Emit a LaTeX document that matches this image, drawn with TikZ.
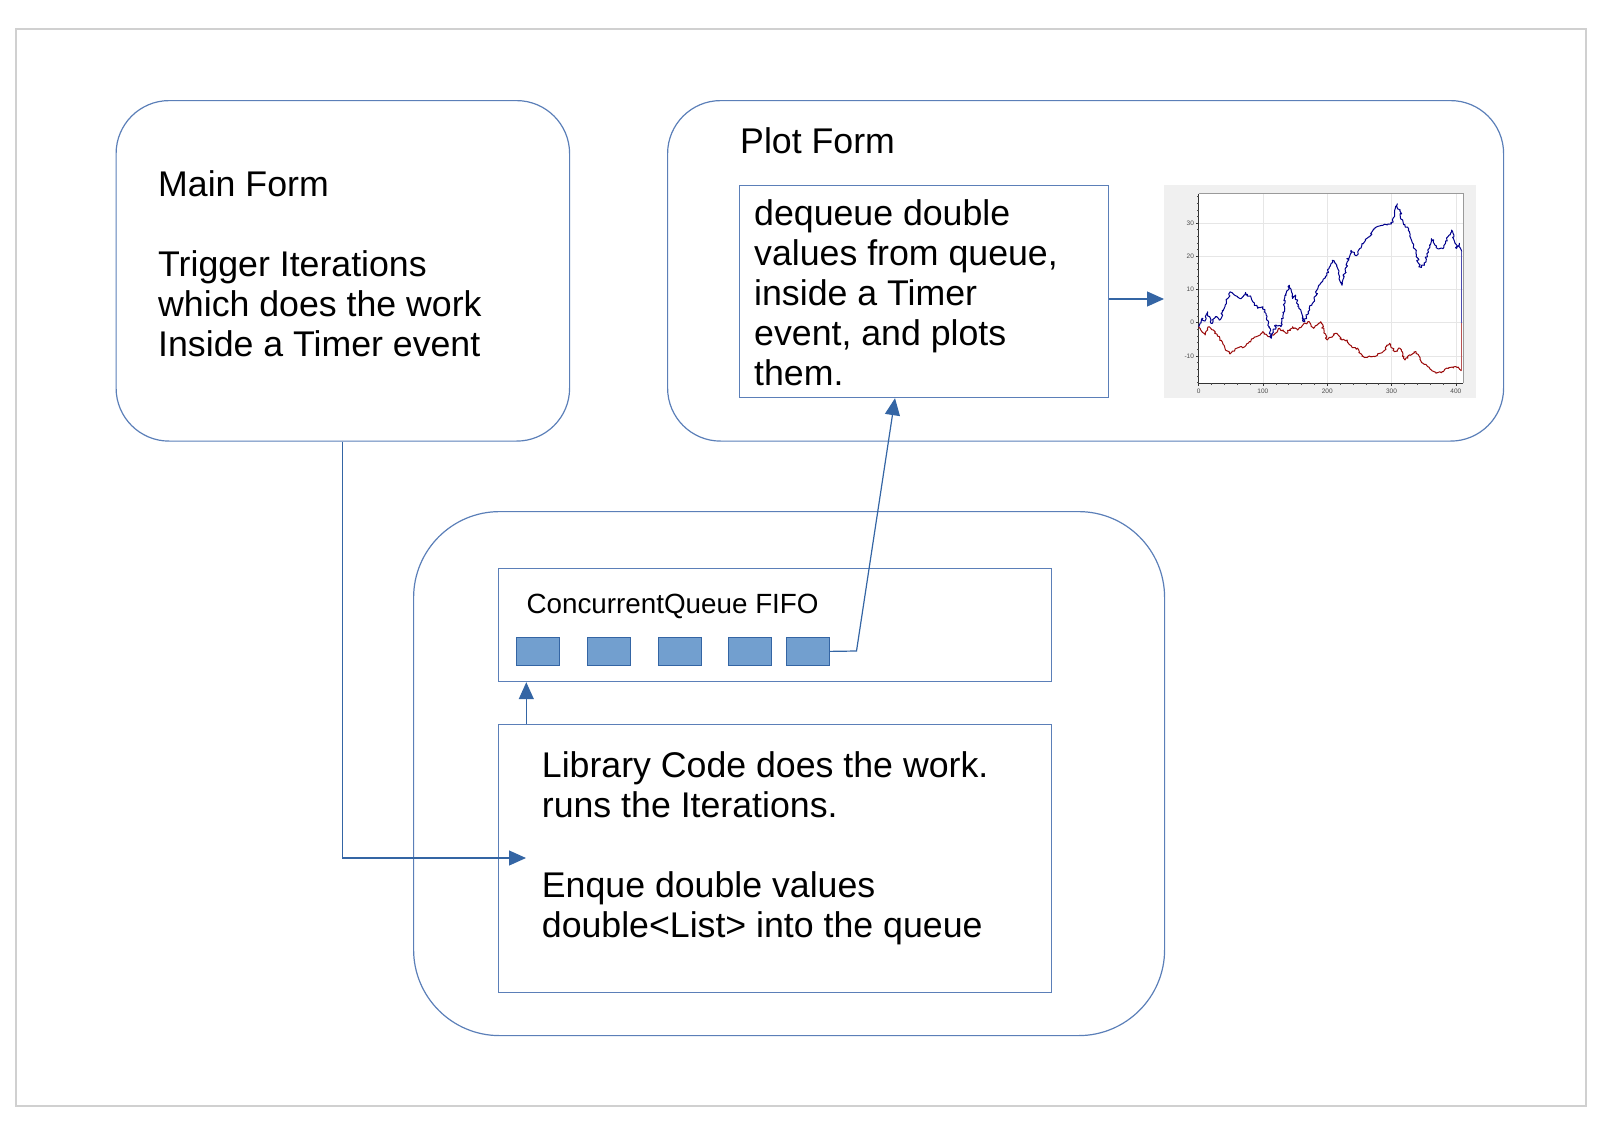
\documentclass[tikz,border=0pt]{standalone}
\usepackage{fontspec}
\setmainfont{Liberation Sans}
\usetikzlibrary{arrows.meta,decorations.pathmorphing}
\definecolor{boxline}{HTML}{5B7FB8}
\definecolor{connblue}{HTML}{3465A4}
\definecolor{sqfill}{HTML}{729FCF}
\definecolor{framegray}{HTML}{D0D0D0}
\definecolor{plotbg}{HTML}{F0F0F0}
\definecolor{gridc}{HTML}{E6E6E6}
\definecolor{bluec}{HTML}{00008C}
\definecolor{redc}{HTML}{9A0A0A}
\definecolor{axisgray}{HTML}{9A9A9A}
\begin{document}
\begin{tikzpicture}[x=1pt,y=-1pt,
  formbox/.style={draw=boxline, line width=1.2pt, rounded corners=53pt, anchor=north west, inner sep=0pt},
  plainbox/.style={draw=boxline, line width=1.2pt, anchor=north west, inner sep=0pt},
  qsquare/.style={draw=connblue, fill=sqfill, line width=0.8pt, anchor=north west, inner sep=0pt, minimum width=43pt, minimum height=28pt},
  bigtext/.style={font=\fontsize{35.7}{40}\selectfont, anchor=base west, inner sep=0pt},
  arrowline/.style={draw=connblue, line width=1.2pt, -{Triangle[length=17pt,width=15pt]}},
  ticklabel/.style={font=\fontsize{6.5}{7.5}\selectfont, text=black!70, inner sep=0pt}
]
\useasboundingbox (0,0) rectangle (1603,1124);
\draw[framegray, line width=1.2pt] (16,29) rectangle (1586,1106);

% boxes
\node[formbox, minimum width=453.5pt, minimum height=340.5pt] (mainform) at (115.5,100) {};
\node[formbox, minimum width=836pt, minimum height=340.5pt] (plotform) at (667,100) {};
\node[formbox, rounded corners=86pt, minimum width=751pt, minimum height=524pt] (container) at (413,511) {};
\node[plainbox, minimum width=553pt, minimum height=113pt] (queue) at (498,568) {};
\node[plainbox, minimum width=553pt, minimum height=268.4pt] (library) at (498,723.6) {};
\node[plainbox, minimum width=369.5pt, minimum height=212pt] (dequeue) at (738.5,185) {};
\node[fill=plotbg, anchor=north west, inner sep=0pt, minimum width=312pt, minimum height=213pt] (plotimg) at (1164,185) {};

% texts
\node[bigtext] (mftext) at (158,196) {\vtop{\hbox{Main Form}\hbox{}\hbox{Trigger Iterations}\hbox{which does the work}\hbox{Inside a Timer event}}};
\node[bigtext] (pftext) at (740,153) {Plot Form};
\node[bigtext] (deqtext) at (754,225) {\vtop{\hbox{dequeue double}\hbox{values from queue,}\hbox{inside a Timer}\hbox{event, and plots}\hbox{them.}}};
\node[bigtext] (libtext) at (541.7,777) {\vtop{\hbox{Library Code does the work.}\hbox{runs the Iterations.}\hbox{}\hbox{Enque double values}\hbox{double<List> into the queue}}};
\node[font=\fontsize{27.8}{32}\selectfont, anchor=base west, inner sep=0pt] (cqtext) at (526.4,613.3) {ConcurrentQueue FIFO};

% queue squares
\node[qsquare] (sq1) at (516,637) {};
\node[qsquare] (sq2) at (587,637) {};
\node[qsquare] (sq3) at (657.5,637) {};
\node[qsquare] (sq4) at (728,637) {};
\node[qsquare] (sq5) at (785.5,637) {};

% connectors
\coordinate (libin) at (526,858);
\coordinate (qx) at (526.3,700);
\coordinate (bend) at (856.5,651);
\coordinate (deqx) at (895,300);
\coordinate (ay) at (1130,299);
\draw[arrowline] (mainform.south) |- (libin);
\draw[arrowline] (library.north -| qx) -- (queue.south -| qx);
\draw[arrowline] (sq5.east) -- (bend) -- (dequeue.south -| deqx);
\draw[arrowline] (dequeue.east |- ay) -- (plotimg.west |- ay);

% chart
\begin{scope}[shift={(1198.6,322.7)}, x=0.643pt, y=3.32pt]
  \fill[white] (0,-18.3) rectangle (411.7,38.8);
  \foreach \t in {100,200,300,400} \draw[gridc, line width=0.6pt] (\t,-18.3) -- (\t,38.8);
  \foreach \v in {-10,0,10,20,30} \draw[gridc, line width=0.6pt] (0,\v) -- (411.7,\v);
  \draw[axisgray, line width=0.8pt] (0,38.8) -- (411.7,38.8) -- (411.7,-18.3);
  \draw[black!80, line width=0.9pt] (0,38.8) -- (0,-18.3) -- (411.7,-18.3);
  \foreach \v in {-18,-16,...,38} \draw[black!70, line width=0.5pt] (0,\v) -- ++(-1.5pt,0);
  \foreach \v in {-10,0,10,20,30} {
    \draw[black!80, line width=0.6pt] (0,\v) -- ++(-3pt,0);
    \node[ticklabel, anchor=east] at ([xshift=-4.5pt]0,\v) {\v};
  }
  \foreach \t in {20,40,...,400} \draw[black!70, line width=0.5pt] (\t,-18.3) -- ++(0,-1.5pt);
  \foreach \t in {0,100,200,300,400} {
    \draw[black!80, line width=0.6pt] (\t,-18.3) -- ++(0,-3pt);
    \node[ticklabel, anchor=north] at ([yshift=-5pt]\t,-18.3) {\t};
  }
  \pgfmathsetseed{11}
  \draw[redc, line width=1pt, line join=round, decorate, decoration={random steps, segment length=1.6pt, amplitude=1.1pt}]
    plot coordinates {(0,-1.2) (10.3,-3.7) (16.4,-1.2) (23,-2.2) (33,-4.7) (41,-7.7) (49,-9.4) (59,-7.7) (72,-7.2) (79,-5.7) (90,-4.2) (100,-2.7) (108,-4.2) (115,-3.7) (126,-1.7) (136,-3.2) (146,-1.2) (154,-2.2) (162,-0.7) (172,0.3) (179,-1.7) (190,0.3) (200,-5.2) (208,-4.2) (213,-3.2) (223,-5.2) (231,-5.2) (238,-7.2) (249,-8.2) (254,-10.2) (264,-10.2) (274,-10.2) (287,-8.7) (297,-6.2) (305,-8.7) (313,-7.7) (321,-11.2) (328,-9.7) (338,-8.7) (346,-11.7) (356,-13.2) (369,-15.2) (379,-14.7) (385.8,-13.7) (399.8,-13.2) (409,-14.5)};
  \draw[redc!70, line width=1pt] (409,-14.5) -- (409,0);
  \draw[bluec, line width=1pt, line join=round, decorate, decoration={random steps, segment length=1.6pt, amplitude=1.3pt}]
    plot coordinates {(0,-1.2) (5,1.3) (10,0.5) (14,3.3) (20,-0.2) (26,1.8) (32,0.8) (41,4.8) (49,9.3) (56,8.3) (64,7.3) (73,9.1) (82,7.3) (92,4.3) (100,4.8) (105,2.3) (113,-4.7) (120,-0.7) (128,-1.2) (136,8.3) (141,11.3) (146,7.3) (151,8.3) (156,4.3) (164,0.3) (172,4.3) (179,6.3) (187,11.3) (197,13.8) (208,18.8) (215,17.3) (223,11.3) (231,18.3) (237,21.8) (246,20.3) (254,23.8) (264,25.8) (274,28.3) (285,29.3) (300,29.8) (309,35.8) (318,30.3) (326,27.8) (336,22.3) (344,16.8) (351,17.3) (362,25.3) (372,22.3) (380,22.3) (393.6,27.9) (401.4,22.4) (405.5,23.9) (409,21.4)};
  \draw[bluec!70, line width=1pt] (409,21.4) -- (409,0);
\end{scope}
\end{tikzpicture}
\end{document}
